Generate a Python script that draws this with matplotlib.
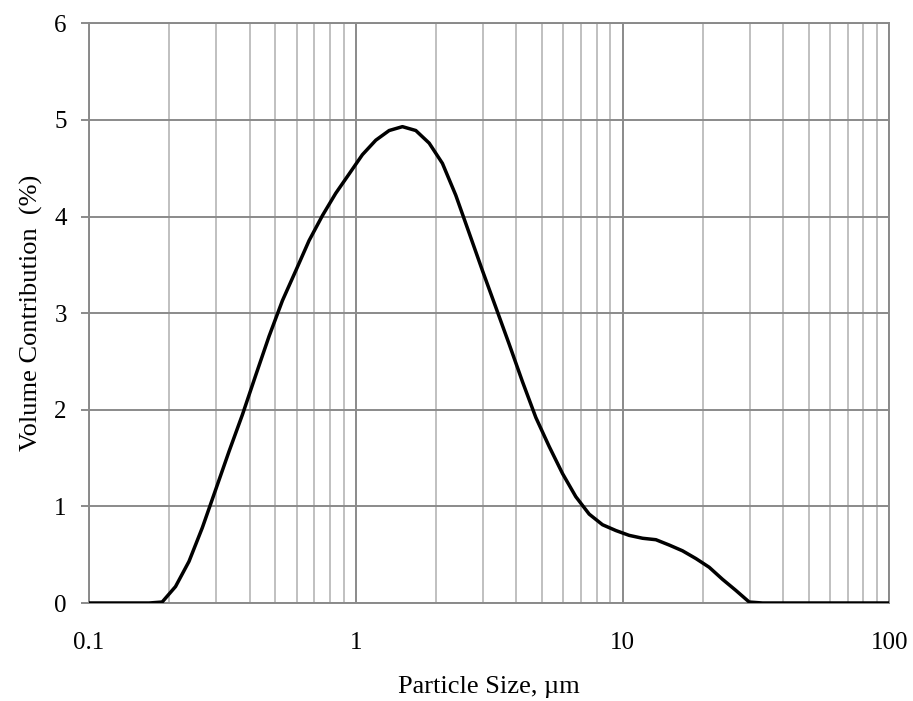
import matplotlib
matplotlib.use("Agg")
import matplotlib.pyplot as plt
from matplotlib.ticker import FixedLocator, NullFormatter

plt.rcParams['font.family'] = ['Liberation Serif', 'DejaVu Serif']

# particle size classes (um) and volume contribution (%)
sizes = [0.1, 0.106, 0.119, 0.133, 0.150, 0.168, 0.188, 0.211, 0.237, 0.266,
         0.299, 0.335, 0.376, 0.422, 0.473, 0.531, 0.596, 0.668, 0.750, 0.841,
         0.944, 1.059, 1.189, 1.334, 1.496, 1.679, 1.884, 2.113, 2.371, 2.661,
         2.985, 3.350, 3.758, 4.217, 4.732, 5.309, 5.957, 6.683, 7.499, 8.414,
         9.441, 10.59, 11.89, 13.34, 14.96, 16.79, 18.84, 21.13, 23.71, 26.61,
         29.85, 33.50, 37.58, 42.17, 47.32, 53.09, 59.57, 66.83, 74.99, 84.14,
         94.41, 100.0]
volume = [0, 0, 0, 0, 0, 0, 0.01, 0.17, 0.43, 0.78,
          1.18, 1.57, 1.95, 2.36, 2.76, 3.13, 3.44, 3.75, 4.01, 4.24,
          4.44, 4.64, 4.79, 4.89, 4.93, 4.89, 4.76, 4.55, 4.22, 3.83,
          3.44, 3.06, 2.68, 2.29, 1.92, 1.62, 1.34, 1.10, 0.92, 0.81,
          0.75, 0.70, 0.67, 0.655, 0.60, 0.54, 0.46, 0.37, 0.245, 0.13,
          0.01, 0, 0, 0, 0, 0, 0, 0, 0, 0,
          0, 0]

x_ticks = [0.1, 1, 10, 100]
x_labels = ["0.1", "1", "10", "100"]
y_ticks = [0, 1, 2, 3, 4, 5, 6]

fig = plt.figure(figsize=(9.13, 7.01), dpi=100)
ax = fig.add_axes([0.0975, 0.1398, 0.8765, 0.827])

ax.plot(sizes, volume, color='black', lw=2.5, solid_joinstyle='round', zorder=3)

ax.set_xscale('log')
ax.set_xlim(0.1, 100)
ax.set_ylim(0, 6)
ax.xaxis.set_major_locator(FixedLocator(x_ticks))
ax.set_xticklabels(x_labels)
minors = [m * d for d in (0.1, 1, 10) for m in range(2, 10)]
ax.xaxis.set_minor_locator(FixedLocator(minors))
ax.xaxis.set_minor_formatter(NullFormatter())
ax.set_yticks(y_ticks)

ax.grid(which='major', color='#8a8a8a', lw=1.4)
ax.grid(which='minor', axis='x', color='#c0c0c0', lw=1.4)
ax.set_axisbelow(True)

for s in ax.spines.values():
    s.set_color('#8a8a8a')
    s.set_linewidth(1.4)

ax.tick_params(axis='x', which='both', length=0, pad=21, labelsize=18)
ax.tick_params(axis='y', length=6, width=1.4, color='#8a8a8a', pad=10, labelsize=18)

ax.set_xlabel("Particle Size, µm", fontsize=19, labelpad=16)
ax.set_ylabel("Volume Contribution  (%)", fontsize=19, labelpad=8)

fig.savefig("out.png", dpi=100)
